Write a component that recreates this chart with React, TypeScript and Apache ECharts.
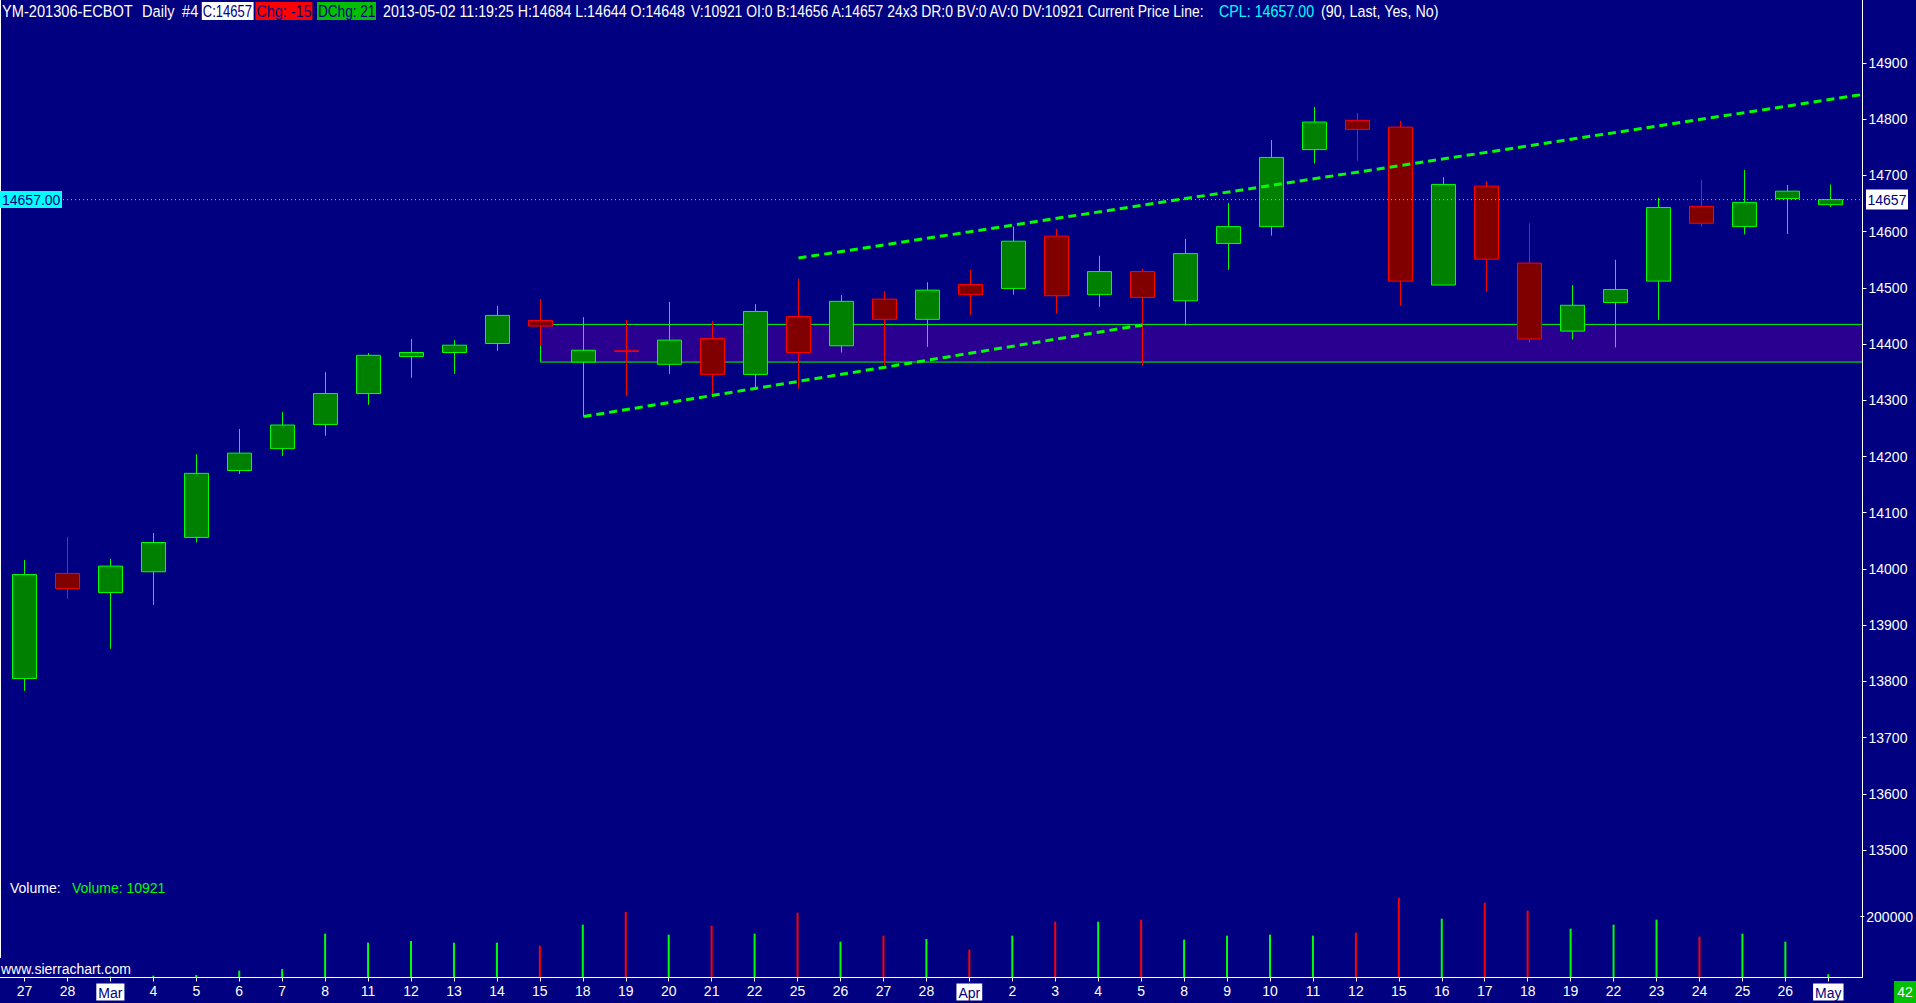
import { useEffect, useRef } from 'react';
import * as echarts from 'echarts';

// ---------- data ----------
const dates = [
  '2013-02-27', '2013-02-28', '2013-03-01', '2013-03-04', '2013-03-05', '2013-03-06', '2013-03-07', '2013-03-08',
  '2013-03-11', '2013-03-12', '2013-03-13', '2013-03-14', '2013-03-15', '2013-03-18', '2013-03-19', '2013-03-20',
  '2013-03-21', '2013-03-22', '2013-03-25', '2013-03-26', '2013-03-27', '2013-03-28', '2013-04-01', '2013-04-02',
  '2013-04-03', '2013-04-04', '2013-04-05', '2013-04-08', '2013-04-09', '2013-04-10', '2013-04-11', '2013-04-12',
  '2013-04-15', '2013-04-16', '2013-04-17', '2013-04-18', '2013-04-19', '2013-04-22', '2013-04-23', '2013-04-24',
  '2013-04-25', '2013-04-26', '2013-05-02',
];
const dateLabels = [
  '27', '28', 'Mar', '4', '5', '6', '7', '8', '11', '12', '13', '14', '15', '18', '19', '20', '21', '22', '25', '26',
  '27', '28', 'Apr', '2', '3', '4', '5', '8', '9', '10', '11', '12', '15', '16', '17', '18', '19', '22', '23', '24',
  '25', '26', 'May',
];
const monthLabels = ['Mar', 'Apr', 'May'];

const opens = [
  13805, 13992, 13958, 13995, 14056, 14175, 14214, 14257, 14312, 14378, 14385, 14401, 14442, 14368, 14388, 14364,
  14410, 14346, 14449, 14397, 14480, 14444, 14506, 14499, 14592, 14488, 14529, 14477, 14579, 14609, 14746, 14798,
  14786, 14505, 14681, 14544, 14423, 14474, 14512, 14645, 14609, 14659, 14648,
];
const closes = [
  13990, 13965, 14005, 14047, 14170, 14206, 14256, 14312, 14380, 14385, 14398, 14451, 14432, 14389, 14387, 14407,
  14346, 14458, 14385, 14476, 14444, 14496, 14488, 14583, 14486, 14529, 14483, 14561, 14609, 14732, 14795, 14782,
  14512, 14684, 14551, 14409, 14469, 14497, 14643, 14615, 14652, 14672, 14657,
];
const lows = [
  13783, 13947, 13858, 13936, 14047, 14169, 14201, 14237, 14292, 14340, 14347, 14388, 14397, 14271, 14308, 14347,
  14308, 14323, 14321, 14385, 14363, 14395, 14452, 14488, 14454, 14466, 14362, 14433, 14532, 14593, 14721, 14726,
  14468, 14505, 14493, 14403, 14408, 14394, 14443, 14609, 14595, 14596, 14644,
];
const highs = [
  14016, 14057, 14018, 14064, 14204, 14249, 14279, 14350, 14384, 14409, 14407, 14468, 14480, 14448, 14443, 14475,
  14441, 14471, 14516, 14487, 14494, 14510, 14532, 14609, 14605, 14557, 14534, 14587, 14651, 14763, 14822, 14811,
  14797, 14697, 14690, 14615, 14505, 14550, 14660, 14692, 14710, 14683, 14684,
];
const volumes = [
  1200, 1800, 3100, 6000, 8200, 22500, 28000, 144200, 114600, 120100, 114600, 114600, 104700, 173800, 215500, 140900,
  170500, 144200, 213300, 117900, 137600, 126600, 91600, 137600, 183700, 183700, 190200, 124500, 137600, 140900,
  137600, 147500, 262600, 193500, 246200, 219800, 160600, 173800, 190200, 134300, 144200, 117900, 10921,
];

const priceTicks = [13500, 13600, 13700, 13800, 13900, 14000, 14100, 14200, 14300, 14400, 14500, 14600, 14700, 14800, 14900];
const volumeTicks = [200000];

const currentPrice = 14657;
const zoneStartIndex = 12;
const zoneTop = 14435;
const zoneBottom = 14368;
const lowerTrend = [[13, 14271], [26, 14434]];
const upperTrendStart = [18, 14553];
const upperTrendEndPrice = 14844;

// ---------- layout / style ----------
const FONT = "'Liberation Sans', Arial, sans-serif";
const BG = '#000080';
const GRID_LEFT = 3;
const BAND = 43;
const GRID_W = BAND * dates.length; // 1849
const AXIS_X = 1862.5;
const OVER_W = AXIS_X - GRID_LEFT;
const X_MAX = -0.5 + OVER_W / BAND;
const PRICE_MIN = 13450;
const PRICE_MAX = 15000;
const P_TOP = 6.8;
const P_H = 871.3;
const V_TOP = 886.3;
const V_H = 91.2;

const HEADER_Y = 11;
const HFS = 17;

function hText(text: string, x: number, fill: string, sx = 0.82) {
  return {
    type: 'text', x, y: HEADER_Y, scaleX: sx, silent: true, z: 100,
    style: { text, fill, fontSize: HFS, fontFamily: FONT, textAlign: 'left', textVerticalAlign: 'middle' },
  };
}
function hBox(x: number, w: number, fill: string) {
  return { type: 'rect', shape: { x, y: 2, width: w, height: 18 }, style: { fill }, silent: true, z: 99 };
}

const staticGraphics: any[] = [
  // frame lines
  { type: 'line', shape: { x1: 0.5, y1: 0, x2: 0.5, y2: 958 }, style: { stroke: '#ffffff', lineWidth: 1 }, z: 50, silent: true },
  { type: 'line', shape: { x1: AXIS_X, y1: 0, x2: AXIS_X, y2: 978 }, style: { stroke: '#ffffff', lineWidth: 1 }, z: 50, silent: true },
  { type: 'line', shape: { x1: 0, y1: 977.5, x2: AXIS_X, y2: 977.5 }, style: { stroke: '#ffffff', lineWidth: 1 }, z: 50, silent: true },
  // header
  hText('YM-201306-ECBOT', 2, '#ffffff', 0.86),
  hText('Daily', 142, '#ffffff', 0.86),
  hText('#4', 182, '#ffffff', 0.86),
  hBox(201.8, 51.8, '#ffffff'),
  hText('C:14657', 202.8, '#000080', 0.765),
  hBox(255.4, 57, '#ff0000'),
  hText('Chg: -15', 256.4, '#000080', 0.845),
  hBox(317, 59, '#00c000'),
  hText('DChg: 21', 318, '#000080', 0.8),
  hText('2013-05-02 11:19:25 H:14684 L:14644 O:14648', 383, '#ffffff', 0.835),
  hText('V:10921 OI:0 B:14656 A:14657 24x3 DR:0 BV:0 AV:0 DV:10921 Current Price Line:', 691, '#ffffff', 0.82),
  hText('CPL: 14657.00', 1219, '#00ffff', 0.84),
  hText('(90, Last, Yes, No)', 1321, '#ffffff', 0.84),
  // volume pane texts
  {
    type: 'text', x: 10, y: 888, silent: true, z: 100,
    style: { text: 'Volume:', fill: '#ffffff', fontSize: 14, fontFamily: FONT, textVerticalAlign: 'middle' },
  },
  {
    type: 'text', x: 72, y: 888, silent: true, z: 100,
    style: { text: 'Volume: 10921', fill: '#00ff00', fontSize: 14, fontFamily: FONT, textVerticalAlign: 'middle' },
  },
  {
    type: 'text', x: 1, y: 968.5, silent: true, z: 100,
    style: { text: 'www.sierrachart.com', fill: '#ffffff', fontSize: 14, fontFamily: FONT, textVerticalAlign: 'middle' },
  },
  // bar counter box
  { type: 'rect', shape: { x: 1894, y: 981, width: 22, height: 22 }, style: { fill: '#00c000' }, silent: true, z: 100 },
  {
    type: 'text', x: 1905, y: 992, silent: true, z: 101,
    style: { text: '42', fill: '#ffffff', fontSize: 14, fontFamily: FONT, textAlign: 'center', textVerticalAlign: 'middle' },
  },
];

const candleData = dates.map((_, i) => [opens[i], closes[i], lows[i], highs[i]]);
const volumeData = volumes.map((v, i) => ({
  value: v,
  itemStyle: { color: closes[i] >= opens[i] ? '#00ff00' : '#ff0000' },
}));

const labelStyle = { color: '#ffffff', fontSize: 14, fontFamily: FONT };
const plain = (v: number) => String(v);

const option: any = {
  animation: false,
  backgroundColor: BG,
  textStyle: { fontFamily: FONT },
  grid: [
    { left: GRID_LEFT, top: P_TOP, width: GRID_W, height: P_H },
    { left: GRID_LEFT, top: V_TOP, width: GRID_W, height: V_H },
    { left: GRID_LEFT, top: P_TOP, width: OVER_W, height: P_H },
  ],
  xAxis: [
    { type: 'category', gridIndex: 0, data: dates, show: false },
    {
      type: 'category', gridIndex: 1, data: dates,
      axisLine: { show: false },
      axisTick: { show: true, alignWithLabel: true, interval: 0, length: 4, lineStyle: { color: '#ffffff' } },
      axisLabel: {
        ...labelStyle, interval: 0, margin: 6,
        formatter: (_v: string, i: number) => {
          const l = dateLabels[i];
          return monthLabels.includes(l) ? `{m|${l}}` : l;
        },
        rich: {
          m: { backgroundColor: '#ffffff', color: '#000080', fontSize: 14, fontFamily: FONT, padding: [2, 2, 1, 2] },
        },
      },
      splitLine: { show: false },
    },
    { type: 'value', gridIndex: 2, min: -0.5, max: X_MAX, show: false },
  ],
  yAxis: [
    {
      type: 'value', gridIndex: 0, position: 'right', offset: AXIS_X - (GRID_LEFT + GRID_W),
      min: PRICE_MIN, max: PRICE_MAX,
      axisLine: { show: false }, splitLine: { show: false },
      axisTick: { show: true, customValues: priceTicks, length: 4, lineStyle: { color: '#ffffff' } },
      axisLabel: { ...labelStyle, customValues: priceTicks, margin: 6, formatter: plain },
    },
    {
      type: 'value', gridIndex: 1, position: 'right', offset: AXIS_X - (GRID_LEFT + GRID_W),
      min: 0, max: 300000,
      axisLine: { show: false }, splitLine: { show: false },
      axisTick: { show: true, customValues: volumeTicks, length: 4, lineStyle: { color: '#ffffff' } },
      axisLabel: { ...labelStyle, customValues: volumeTicks, margin: 6, formatter: plain },
    },
    { type: 'value', gridIndex: 2, min: PRICE_MIN, max: PRICE_MAX, show: false },
  ],
  series: [
    {
      type: 'line', xAxisIndex: 2, yAxisIndex: 2, z: 1, silent: true, symbol: 'none',
      data: [[zoneStartIndex, zoneTop]],
      markArea: {
        silent: true,
        itemStyle: { color: '#2a0091', borderColor: '#00ff00', borderWidth: 1 },
        data: [[{ xAxis: zoneStartIndex, yAxis: zoneTop }, { xAxis: X_MAX, yAxis: zoneBottom }]],
      },
    },
    {
      type: 'candlestick', xAxisIndex: 0, yAxisIndex: 0, z: 3, silent: true,
      barWidth: 25,
      data: candleData,
      itemStyle: { color: '#008000', color0: '#800000', borderColor: '#00ff00', borderColor0: '#ff0000', borderWidth: 1 },
      emphasis: { disabled: true },
    },
    {
      type: 'bar', xAxisIndex: 1, yAxisIndex: 1, barWidth: 2, silent: true,
      data: volumeData,
    },
    {
      type: 'line', xAxisIndex: 2, yAxisIndex: 2, z: 5, silent: true, symbol: 'none',
      data: lowerTrend,
      lineStyle: { color: '#00ff00', width: 3, type: [8, 5] },
    },
    {
      type: 'line', xAxisIndex: 2, yAxisIndex: 2, z: 5, silent: true, symbol: 'none',
      data: [upperTrendStart, [X_MAX, upperTrendEndPrice]],
      lineStyle: { color: '#00ff00', width: 3, type: [8, 5] },
    },
    {
      type: 'line', xAxisIndex: 2, yAxisIndex: 2, z: 6, silent: true, symbol: 'none',
      data: [[-0.5, currentPrice], [X_MAX, currentPrice]],
      lineStyle: { color: '#00ffff', width: 1, type: [1, 3] },
    },
  ],
  graphic: { elements: staticGraphics },
};

export default function App() {
  const ref = useRef<HTMLDivElement>(null);
  useEffect(() => {
    if (!ref.current) return;
    const chart = echarts.init(ref.current, undefined, { renderer: 'svg', width: 1916, height: 1003 });
    chart.setOption(option);
    const yPix = chart.convertToPixel({ yAxisIndex: 2 } as any, currentPrice) as number;
    const xRight = chart.convertToPixel({ xAxisIndex: 2 } as any, X_MAX) as number;
    chart.setOption({
      graphic: {
        elements: [
          ...staticGraphics,
          { type: 'rect', shape: { x: 0, y: yPix - 8.5, width: 62, height: 17 }, style: { fill: '#00ffff' }, z: 110, silent: true },
          {
            type: 'text', x: 2, y: yPix, z: 111, silent: true,
            style: { text: currentPrice.toFixed(2), fill: '#000080', fontSize: 14, fontFamily: FONT, textVerticalAlign: 'middle' },
          },
          { type: 'rect', shape: { x: xRight + 3.5, y: yPix - 10, width: 42, height: 20 }, style: { fill: '#ffffff' }, z: 110, silent: true },
          {
            type: 'text', x: xRight + 5, y: yPix, z: 111, silent: true,
            style: { text: String(currentPrice), fill: '#000080', fontSize: 14, fontFamily: FONT, textVerticalAlign: 'middle' },
          },
        ],
      },
    });
    return () => chart.dispose();
  }, []);
  return <div ref={ref} style={{ position: 'fixed', left: 0, top: 0, width: 1916, height: 1003 }} />;
}
